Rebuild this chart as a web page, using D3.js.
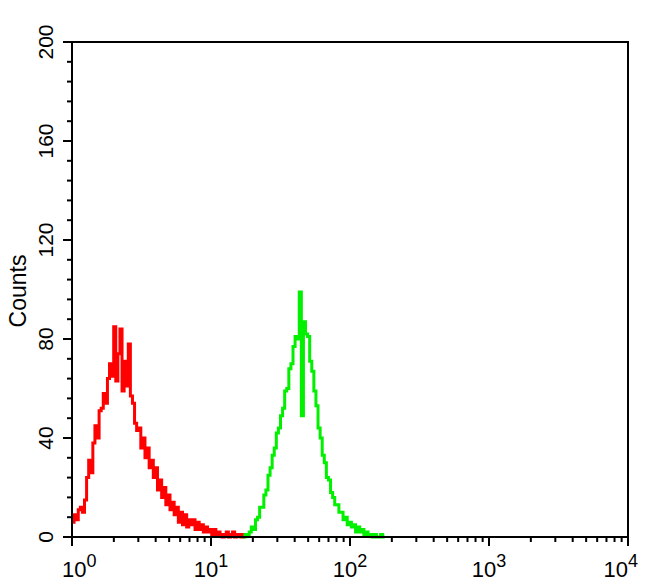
<!DOCTYPE html>
<html><head><meta charset="utf-8">
<script src="https://cdn.jsdelivr.net/npm/d3@7"></script>
<style>
body{margin:0;background:#fff;}
text{font-family:"Liberation Sans",Arial,Helvetica,sans-serif;fill:#000;}
</style></head>
<body><svg id="c" width="650" height="585"></svg>
<script>
// ---- data ----
const yTickValues = [0, 40, 80, 120, 160, 200];
const xDecades = [0, 1, 2, 3, 4];
const yLabel = "Counts";
// histogram bins: log10 start and bin width (decades)
const redStart = 0.0, greenStart = 1.23, binWidth = 0.015;
const redCounts = [6,9,7,11,12,10,15,24,31,26,38,45,40,51,52,58,54,64,70,65,85,63,74,84,59,71,61,78,57,54,46,43,44,36,40,32,36,28,31,24,28,19,23,16,20,13,17,11,14,9,12,6,10,5,9,4,7,5,7,3,6,3,5,2,4,2,3,1,3,1,2,1,0,1,2,0,1,2,0,1,1,0,1];
const greenCounts = [0,1,1,2,4,3,7,8,12,12,17,19,25,28,33,36,42,44,49,52,59,60,68,70,77,81,80,99,49,87,82,81,71,67,59,53,44,40,33,30,24,23,18,16,13,13,10,10,7,8,5,6,4,5,2,4,2,3,1,2,1,1,0,1,0,0,1,0];

// ---- layout ----
const L = 72, R = 628, T = 42, B = 537;
const svg = d3.select("#c");
const x = d3.scaleLog().domain([1, 1e4]).range([L, R]);
const y = d3.scaleLinear().domain([0, 200]).range([B, T]);

function series(start, counts) {
  const pts = counts.map((c, i) => [Math.pow(10, start + i * binWidth), c]);
  pts.push([Math.pow(10, start + counts.length * binWidth), counts[counts.length - 1]]);
  return pts;
}
const line = d3.line().x(d => x(d[0])).y(d => y(d[1])).curve(d3.curveStepAfter);

svg.append("path").datum(series(redStart, redCounts)).attr("d", line)
  .attr("fill", "none").attr("stroke", "#ff0000").attr("stroke-width", 3);
svg.append("path").datum(series(greenStart, greenCounts)).attr("d", line)
  .attr("fill", "none").attr("stroke", "#00f000").attr("stroke-width", 3);

// frame
svg.append("rect").attr("x", L).attr("y", T).attr("width", R - L).attr("height", B - T)
  .attr("fill", "none").attr("stroke", "#000").attr("stroke-width", 2);

// y axis ticks
const yMinor = d3.range(0, 201, 8);
svg.append("g").selectAll("line").data(yMinor).join("line")
  .attr("x1", L - 5).attr("x2", L).attr("y1", d => y(d)).attr("y2", d => y(d))
  .attr("stroke", "#000").attr("stroke-width", 2);
svg.append("g").selectAll("line").data(yTickValues).join("line")
  .attr("x1", L - 9).attr("x2", L).attr("y1", d => y(d)).attr("y2", d => y(d))
  .attr("stroke", "#000").attr("stroke-width", 2);
svg.append("g").selectAll("text").data(yTickValues).join("text")
  .attr("transform", d => `translate(53,${y(d)}) rotate(-90)`)
  .attr("text-anchor", "middle").attr("font-size", 21).text(d => d);

svg.append("text").attr("transform", "translate(26,291) rotate(-90)")
  .attr("text-anchor", "middle").attr("font-size", 23).text(yLabel);

// x axis ticks
const xMinor = [];
for (let d = 0; d < 4; d++) for (let k = 2; k <= 9; k++) xMinor.push(k * Math.pow(10, d));
svg.append("g").selectAll("line").data(xMinor).join("line")
  .attr("x1", d => x(d)).attr("x2", d => x(d)).attr("y1", B).attr("y2", B + 5)
  .attr("stroke", "#000").attr("stroke-width", 2);
svg.append("g").selectAll("line").data(xDecades).join("line")
  .attr("x1", d => x(Math.pow(10, d))).attr("x2", d => x(Math.pow(10, d))).attr("y1", B).attr("y2", B + 9)
  .attr("stroke", "#000").attr("stroke-width", 2);

const xl = svg.append("g").selectAll("text").data(xDecades).join("text")
  .attr("x", d => x(Math.pow(10, d))).attr("y", 577).attr("text-anchor", "middle").attr("font-size", 22);
xl.append("tspan").text("10");
xl.append("tspan").attr("font-size", 18).attr("dy", -10).text(d => d);
// keep labels inside the picture
xl.each(function() {
  const bb = this.getBBox();
  let shift = 0;
  if (bb.x < 62) shift = 62 - bb.x;
  if (bb.x + bb.width > 638) shift = 638 - (bb.x + bb.width);
  d3.select(this).attr("x", +d3.select(this).attr("x") + shift);
});
</script></body></html>
